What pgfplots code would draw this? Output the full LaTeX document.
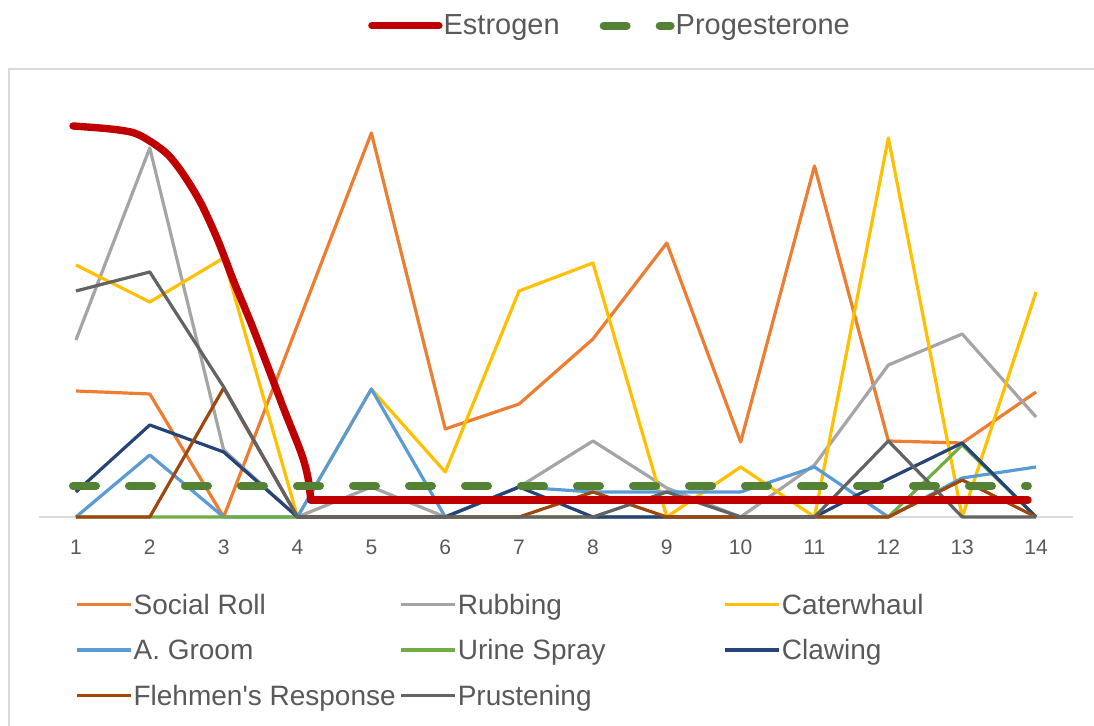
\documentclass[border=0pt]{standalone}
\usepackage{fontspec}
\setmainfont{Liberation Sans}[Ligatures=TeXOff]
\usepackage{pgfplots}
\pgfplotsset{compat=1.18}
\definecolor{cRoll}{HTML}{ED7D31}
\definecolor{cRub}{HTML}{A5A5A5}
\definecolor{cCat}{HTML}{FFC000}
\definecolor{cGroom}{HTML}{5B9BD5}
\definecolor{cUrine}{HTML}{70AD47}
\definecolor{cClaw}{HTML}{264478}
\definecolor{cFleh}{HTML}{9E480E}
\definecolor{cPrus}{HTML}{636363}
\definecolor{cEst}{HTML}{C00000}
\definecolor{cProg}{HTML}{548235}
\definecolor{txtgray}{HTML}{595959}
\definecolor{linegray}{HTML}{D9D9D9}

\newcommand{\lx}[1]{\makebox[132.5pt][l]{\strut #1}}

\pgfplotsset{
  frame/.style={at={(19.5pt,104.5pt)}, anchor=south west, scale only axis,
    width=517pt, height=208.5pt, xmin=0.5, xmax=14.5, ymin=0, ymax=417, clip=false},
}

\begin{document}
\begin{tikzpicture}[x=1pt,y=1pt]
\useasboundingbox (0,0) rectangle (547,363);
\draw[linegray, line width=1pt] (4.5,0) -- (4.5,328.5) -- (547,328.5);

% behaviours
\begin{axis}[frame,
  axis y line=none, axis x line*=bottom,
  x axis line style={linegray, line width=0.75pt},
  xtick={1,2,3,4,5,6,7,8,9,10,11,12,13,14},
  xticklabels={1,2,3,4,5,6,7,8,9,10,11,12,13,14},
  major tick length=0pt,
  xticklabel style={font=\fontsize{10.5}{12}\selectfont, text=txtgray, yshift=-8pt},
  legend columns=3,
  legend cell align=left,
  legend style={at={(0.0348,-0.319)}, anchor=west, draw=none, fill=none,
    inner sep=0pt, row sep=9pt, nodes={inner sep=0.5pt},
    font=\fontsize{14}{16}\selectfont, text=txtgray},
  legend image code/.code={\draw[#1] (0pt,0pt) -- (27pt,0pt);},
  every axis plot/.append style={line width=1.6pt, line join=round},
]
\addplot[cRoll] coordinates {(1,126) (2,123) (3,0) (4,192) (5,384) (6,88) (7,113) (8,178) (9,274) (10,75) (11,351) (12,76) (13,74) (14,125)};
\addlegendentry{\lx{Social Roll}}
\addplot[cRub] coordinates {(1,177) (2,369) (3,67) (4,0) (5,30) (6,0) (7,30) (8,76) (9,29) (10,0) (11,52) (12,152) (13,183) (14,100)};
\addlegendentry{\lx{Rubbing}}
\addplot[cCat] coordinates {(1,252) (2,215) (3,259) (4,0) (5,128) (6,45) (7,226) (8,254) (9,0) (10,50) (11,0) (12,379) (13,0) (14,225)};
\addlegendentry{\lx{Caterwhaul}}
\addplot[cGroom] coordinates {(1,0) (2,62) (3,0) (4,0) (5,128) (6,0) (7,30) (8,25) (9,25) (10,25) (11,50) (12,0) (13,39) (14,50)};
\addlegendentry{\lx{A. Groom}}
\addplot[cUrine] coordinates {(1,0) (2,0) (3,0) (4,0) (5,0) (6,0) (7,0) (8,0) (9,0) (10,0) (11,0) (12,0) (13,72) (14,0)};
\addlegendentry{\lx{Urine Spray}}
\addplot[cClaw] coordinates {(1,25) (2,92) (3,65) (4,0) (5,0) (6,0) (7,30) (8,0) (9,0) (10,0) (11,0) (12,38) (13,74) (14,0)};
\addlegendentry{\lx{Clawing}}
\addplot[cFleh] coordinates {(1,0) (2,0) (3,129) (4,0) (5,0) (6,0) (7,0) (8,25) (9,0) (10,0) (11,0) (12,0) (13,37) (14,0)};
\addlegendentry{\lx{Flehmen's Response}}
\addplot[cPrus] coordinates {(1,226) (2,245) (3,130) (4,0) (5,0) (6,0) (7,0) (8,0) (9,25) (10,0) (11,0) (12,76) (13,0) (14,0)};
\addlegendentry{\lx{Prustening}}
\end{axis}

% hormones
\begin{axis}[frame,
  axis lines=none, xtick=\empty, ytick=\empty,
  legend columns=2,
  legend style={at={(0.318,1.178)}, anchor=west, draw=none, fill=none,
    inner sep=0pt, nodes={inner sep=0.5pt},
    font=\fontsize{14.5}{17}\selectfont, text=txtgray,
    /tikz/every even column/.append style={column sep=19.5pt}},
  legend image code/.code={\draw[#1] (0pt,0pt) -- (33.5pt,0pt);},
]
\addplot[cEst, line width=3.7pt, line cap=round, line join=round, smooth, tension=0.5] coordinates {
  (0.96,391) (1.47,388) (1.79,384) (2.02,375) (2.25,362) (2.46,342) (2.69,314)
  (2.92,277) (3.14,235) (3.37,194) (3.60,150) (3.82,107) (4.05,64) (4.14,40)
  (4.18,17)};
\addlegendentry{Estrogen}
\addplot[cEst, line width=3.7pt, line cap=round, line join=round, forget plot] coordinates {
  (4.18,17) (13.89,17)};
\addplot[cProg, line width=4pt, line cap=round, dash pattern=on 11.5pt off 16.5pt] coordinates {
  (0.96,31) (13.89,31)};
\addlegendentry{Progesterone}
\end{axis}
\end{tikzpicture}
\end{document}
